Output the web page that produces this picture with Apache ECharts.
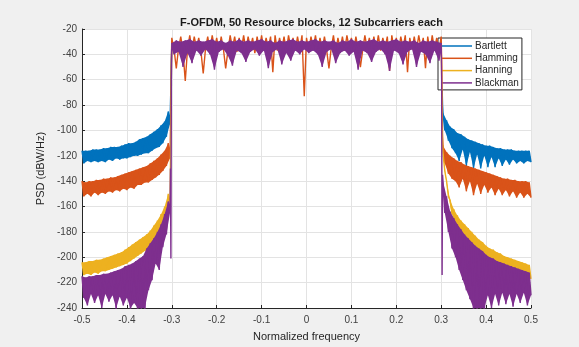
<!DOCTYPE html>
<html>
<head>
<meta charset="utf-8">
<script src="https://cdn.jsdelivr.net/npm/echarts@6/dist/echarts.min.js"></script>
<style>
html,body{margin:0;padding:0;background:#f0f0f0;}
#c{width:579px;height:347px;}
</style>
</head>
<body>
<div id="c"></div>
<script>
// ---- frequency grids (normalized frequency) ----
const fSideL = [-0.5,-0.496,-0.492,-0.488,-0.484,-0.48,-0.476,-0.472,-0.468,-0.464,-0.46,-0.456,-0.452,-0.448,-0.444,-0.44,-0.436,-0.432,-0.428,-0.424,-0.42,-0.416,-0.412,-0.408,-0.404,-0.4,-0.396,-0.392,-0.388,-0.384,-0.38,-0.376,-0.372,-0.368,-0.364,-0.36,-0.356,-0.352,-0.348,-0.344,-0.34,-0.336,-0.332,-0.328,-0.324,-0.32,-0.316,-0.312,-0.308,-0.304];
const fSideR = [0.304,0.308,0.312,0.316,0.32,0.324,0.328,0.332,0.336,0.34,0.344,0.348,0.352,0.356,0.36,0.364,0.368,0.372,0.376,0.38,0.384,0.388,0.392,0.396,0.4,0.404,0.408,0.412,0.416,0.42,0.424,0.428,0.432,0.436,0.44,0.444,0.448,0.452,0.456,0.46,0.464,0.468,0.472,0.476,0.48,0.484,0.488,0.492,0.496,0.5];
const fEdgeL = [-0.303,-0.302,-0.301];
const fEdgeR = [0.301,0.302,0.303];
const fPass = [-0.3,-0.295,-0.29,-0.285,-0.28,-0.275,-0.27,-0.265,-0.26,-0.255,-0.25,-0.245,-0.24,-0.235,-0.23,-0.225,-0.22,-0.215,-0.21,-0.205,-0.2,-0.195,-0.19,-0.185,-0.18,-0.175,-0.17,-0.165,-0.16,-0.155,-0.15,-0.145,-0.14,-0.135,-0.13,-0.125,-0.12,-0.115,-0.11,-0.105,-0.1,-0.095,-0.09,-0.085,-0.08,-0.075,-0.07,-0.065,-0.06,-0.055,-0.05,-0.045,-0.04,-0.035,-0.03,-0.025,-0.02,-0.015,-0.01,-0.005,0,0.005,0.01,0.015,0.02,0.025,0.03,0.035,0.04,0.045,0.05,0.055,0.06,0.065,0.07,0.075,0.08,0.085,0.09,0.095,0.1,0.105,0.11,0.115,0.12,0.125,0.13,0.135,0.14,0.145,0.15,0.155,0.16,0.165,0.17,0.175,0.18,0.185,0.19,0.195,0.2,0.205,0.21,0.215,0.22,0.225,0.23,0.235,0.24,0.245,0.25,0.255,0.26,0.265,0.27,0.275,0.28,0.285,0.29,0.295,0.3];
const fPassShort = [-0.3,-0.2,-0.1,0,0.1,0.2,0.3];

// ---- PSD values (dBW/Hz); even entries = upper envelope, odd = lower ----
const bartlettL = [-116,-126,-116,-124,-116,-125,-115,-124,-115,-125,-115,-124,-114,-125,-114,-123,-113,-124,-113,-122,-113,-123,-112,-122,-111,-122,-110,-121,-110,-120,-109,-120,-107,-119,-106,-118,-105,-118,-103,-116,-101,-114,-99,-113,-96,-110,-93,-105,-85,-95];
const bartlettEdgeL = [-80,-65,-45];
const bartlettPass = [-32,-33,-33,-33,-33,-33,-32];
const bartlettEdgeR = [-45,-65,-80];
const bartlettR = [-86,-100,-92,-108,-97,-114,-99,-118,-102,-124,-103,-115,-105,-128,-107,-117,-108,-130,-109,-119,-110,-130,-111,-120,-112,-129,-112,-121,-113,-129,-114,-122,-114,-128,-115,-123,-115,-127,-115,-123,-116,-126,-116,-124,-116,-126,-116,-124,-116,-125];

const hammingL = [-140,-152,-141,-150,-140,-152,-140,-149,-139,-151,-139,-149,-138,-150,-138,-148,-137,-149,-137,-147,-136,-148,-135,-146,-134,-147,-133,-145,-132,-146,-131,-143,-130,-143,-129,-141,-128,-141,-126,-139,-124,-137,-122,-135,-119,-132,-116,-128,-110,-122];
const hammingEdgeL = [-100,-75,-45];
const hammingPass = [-27,-36,-51,-35,-26,-38,-61,-36,-25,-37,-26,-35,-27,-38,-55,-36,-26,-37,-25,-35,-27,-38,-26,-36,-51,-37,-25,-35,-26,-38,-27,-36,-25,-37,-26,-35,-27,-39,-26,-36,-25,-37,-27,-35,-26,-54,-25,-37,-27,-36,-26,-38,-25,-35,-27,-37,-26,-36,-25,-73,-27,-37,-26,-35,-25,-38,-27,-36,-26,-37,-51,-35,-25,-38,-27,-36,-26,-37,-25,-35,-27,-38,-26,-36,-50,-37,-25,-35,-27,-38,-26,-36,-25,-37,-27,-35,-26,-53,-25,-36,-27,-38,-26,-35,-25,-54,-27,-36,-26,-37,-25,-35,-27,-51,-26,-38,-25,-36,-27,-37,-26];
const hammingEdgeR = [-45,-80,-105];
const hammingR = [-112,-126,-117,-134,-120,-138,-122,-140,-124,-145,-125,-138,-127,-148,-128,-140,-129,-151,-130,-142,-131,-150,-132,-143,-133,-149,-134,-145,-135,-151,-136,-146,-137,-151,-138,-147,-138,-152,-139,-148,-139,-153,-140,-149,-140,-153,-140,-150,-141,-153];

const hanningL = [-204,-214,-204,-213,-203,-214,-203,-212,-202,-213,-202,-211,-201,-211,-200,-210,-199,-209,-198,-208,-197,-207,-196,-206,-194,-205,-192,-203,-190,-201,-188,-199,-186,-197,-184,-195,-182,-193,-179,-191,-175,-187,-171,-183,-166,-178,-160,-172,-150,-162];
const hanningEdgeL = [-125,-95,-55];
const hanningPass = [-32,-33,-33,-33,-33,-33,-32];
const hanningEdgeR = [-55,-95,-110];
const hanningR = [-118,-132,-140,-152,-155,-166,-162,-174,-167,-179,-171,-183,-174,-186,-177,-189,-180,-192,-183,-195,-186,-197,-188,-199,-191,-202,-193,-204,-194,-205,-196,-207,-197,-208,-199,-209,-200,-211,-201,-212,-202,-213,-203,-214,-204,-215,-205,-216,-206,-217];

const blackmanL = [-215,-232,-216,-238,-215,-229,-215,-236,-214,-230,-214,-240,-213,-229,-213,-235,-212,-230,-211,-242,-210,-231,-209,-238,-207,-232,-206,-243,-205,-236,-203,-245,-201,-242,-199,-245,-193,-226,-189,-218,-185,-205,-180,-210,-174,-192,-166,-182,-156,-165];
const blackmanEdgeL = [-130,-201,-60];
const blackmanPass = [-31,-40,-29,-38,-30,-50,-29,-39,-28,-47,-30,-37,-29,-41,-30,-36,-29,-40,-28,-52,-30,-38,-29,-36,-31,-41,-29,-49,-30,-37,-28,-39,-30,-46,-29,-38,-30,-36,-29,-41,-28,-37,-30,-51,-29,-38,-31,-36,-29,-48,-30,-39,-29,-45,-28,-37,-30,-40,-29,-36,-30,-39,-29,-37,-28,-40,-30,-50,-29,-38,-30,-36,-29,-47,-31,-39,-29,-37,-30,-41,-28,-38,-30,-52,-29,-37,-30,-39,-29,-46,-28,-38,-30,-36,-29,-40,-30,-53,-29,-37,-28,-39,-30,-48,-29,-38,-30,-36,-29,-50,-31,-38,-29,-40,-30,-47,-29,-37,-30,-45,-31];
const blackmanEdgeR = [-60,-214,-135];
const blackmanR = [-140,-165,-152,-180,-164,-193,-169,-200,-174,-210,-178,-218,-182,-226,-185,-233,-188,-244,-191,-245,-193,-243,-195,-245,-198,-230,-200,-240,-201,-229,-203,-238,-204,-228,-205,-237,-206,-229,-207,-239,-208,-229,-209,-236,-210,-228,-211,-238,-212,-230];

const seriesNames = ['Bartlett','Hamming','Hanning','Blackman'];
const seriesColors = ['#0072BD','#D95319','#EDB120','#7E2F8E'];

function pairs(fs, vs){ return fs.map((f,i)=>[f, vs[i]]); }
function build(parts){ let out=[]; parts.forEach(p=>{ out = out.concat(pairs(p[0],p[1])); }); return out; }

const dataSets = [
  build([[fSideL,bartlettL],[fEdgeL,bartlettEdgeL],[fPassShort,bartlettPass],[fEdgeR,bartlettEdgeR],[fSideR,bartlettR]]),
  build([[fSideL,hammingL],[fEdgeL,hammingEdgeL],[fPass,hammingPass],[fEdgeR,hammingEdgeR],[fSideR,hammingR]]),
  build([[fSideL,hanningL],[fEdgeL,hanningEdgeL],[fPassShort,hanningPass],[fEdgeR,hanningEdgeR],[fSideR,hanningR]]),
  build([[fSideL,blackmanL],[fEdgeL,blackmanEdgeL],[fPass,blackmanPass],[fEdgeR,blackmanEdgeR],[fSideR,blackmanR]])
];
// regions whose upper/lower envelopes are filled as a band
const bandRegions = [
  [[fSideL,bartlettL],[fSideR,bartlettR]],
  [[fSideL,hammingL],[fSideR,hammingR]],
  [[fSideL,hanningL],[fSideR,hanningR]],
  [[fSideL,blackmanL],[fSideR,blackmanR],[fPass,blackmanPass]]
];

const YMIN = -240, YMAX = -20;
function bandSeries(regions, color, z){
  return {
    type:'custom', silent:true, z:z, animation:false,
    data:[[0,-100]],
    renderItem:function(params, api){
      const children = regions.map(([f,v])=>{
        const pts = [];
        for(let i=0;i<f.length;i+=2) pts.push(api.coord([f[i], Math.max(v[i],YMIN)]));
        const lastOdd = (f.length%2===0) ? f.length-1 : f.length-2;
        for(let i=lastOdd;i>=1;i-=2) pts.push(api.coord([f[i], Math.max(v[i],YMIN)]));
        return {type:'polygon', shape:{points:pts}, style:{fill:color, stroke:null}};
      });
      return {type:'group', children:children};
    }
  };
}

const FONT = '"Liberation Sans", Arial, Helvetica, sans-serif';
const series = [];
seriesNames.forEach((n,i)=>{
  series.push(bandSeries(bandRegions[i], seriesColors[i], 2+2*i));
  series.push({
    name:n, type:'line', data:dataSets[i], showSymbol:false, symbol:'none',
    sampling:null, clip:true, z:3+2*i,
    lineStyle:{color:seriesColors[i], width:1.4},
    itemStyle:{color:seriesColors[i]}
  });
});

const chart = echarts.init(document.getElementById('c'), null, {renderer:'canvas'});
chart.setOption({
  animation:false,
  backgroundColor:'#f0f0f0',
  textStyle:{fontFamily:FONT},
  title:{
    text:'F-OFDM, 50 Resource blocks, 12 Subcarriers each',
    left:306.5, top:12, textAlign:'center',
    textStyle:{fontSize:11, fontWeight:'bold', color:'#1a1a1a', fontFamily:FONT}
  },
  grid:{left:82, right:48, top:29, bottom:34, show:true, backgroundColor:'#ffffff', borderWidth:0},
  legend:{
    data:seriesNames,
    orient:'vertical',
    left:438, top:38,
    backgroundColor:'#ffffff',
    borderColor:'#262626', borderWidth:1, borderRadius:0,
    padding:[2,3,1,4],
    itemGap:0.3,
    itemWidth:30, itemHeight:1.5,
    icon:'rect',
    textStyle:{fontSize:10, color:'#262626', lineHeight:12, fontFamily:FONT, padding:[0,0,0,-2]}
  },
  xAxis:{
    type:'value', min:-0.5, max:0.5, interval:0.1,
    name:'Normalized frequency', nameLocation:'middle', nameGap:23,
    nameTextStyle:{fontSize:11, color:'#262626', fontFamily:FONT},
    axisLine:{show:true, onZero:false, lineStyle:{color:'#262626', width:1}},
    axisTick:{show:true, inside:true, length:3, lineStyle:{color:'#262626'}},
    axisLabel:{fontSize:10, color:'#404040', margin:7, fontFamily:FONT},
    splitLine:{show:true, lineStyle:{color:'#e3e3e3', width:1}}
  },
  yAxis:{
    type:'value', min:YMIN, max:YMAX, interval:20,
    name:'PSD (dBW/Hz)', nameLocation:'middle', nameGap:28,
    nameTextStyle:{fontSize:11, color:'#262626', fontFamily:FONT},
    axisLine:{show:true, onZero:false, lineStyle:{color:'#262626', width:1}},
    axisTick:{show:true, inside:true, length:3, lineStyle:{color:'#262626'}},
    axisLabel:{fontSize:10, color:'#404040', margin:5, fontFamily:FONT},
    splitLine:{show:true, lineStyle:{color:'#e3e3e3', width:1}}
  },
  series: series
});
</script>
</body>
</html>
